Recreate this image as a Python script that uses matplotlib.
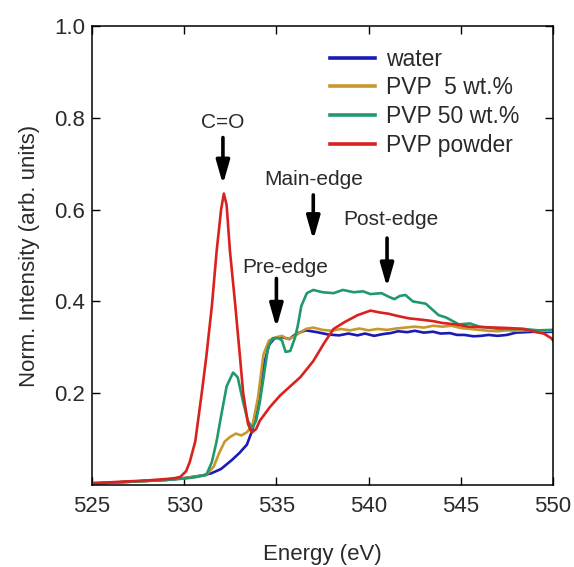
import matplotlib
matplotlib.use("Agg")
import matplotlib.pyplot as plt

plt.rcParams['font.family'] = ['Liberation Sans', 'DejaVu Sans']

# O K-edge NEXAFS spectra, normalised intensity vs photon energy
water_e = [525, 526, 527, 528, 529, 530, 530.5, 531, 531.5, 532, 532.3, 532.6, 533.0,
           533.4, 533.7, 534.0, 534.3, 534.6, 534.9, 535.3, 535.7, 536.1, 536.6, 537.2,
           537.8, 538.4, 538.9, 539.4, 539.8, 540.3, 540.8, 541.2, 541.6, 542.1, 542.5,
           543.0, 543.5, 543.9, 544.4, 544.8, 545.2, 545.7, 546.1, 546.5, 547.0, 547.5,
           548.0, 548.5, 549.0, 549.5, 550]
water_i = [0.004, 0.005, 0.007, 0.009, 0.011, 0.015, 0.018, 0.021, 0.026, 0.035, 0.045,
           0.055, 0.07, 0.088, 0.12, 0.18, 0.26, 0.305, 0.32, 0.322, 0.318, 0.33, 0.337,
           0.333, 0.328, 0.326, 0.33, 0.326, 0.33, 0.325, 0.329, 0.331, 0.335, 0.333, 0.336,
           0.332, 0.334, 0.33, 0.331, 0.327, 0.327, 0.324, 0.325, 0.327, 0.325, 0.327,
           0.332, 0.333, 0.334, 0.333, 0.334]

pvp5_e = [525, 526, 527, 528, 529, 530, 530.6, 531.2, 531.6, 531.9, 532.2, 532.5, 532.8,
          533.1, 533.4, 533.7, 534.0, 534.3, 534.6, 535.0, 535.3, 535.6, 535.9, 536.2,
          536.6, 537.0, 537.5, 538.0, 538.5, 539.0, 539.5, 540.0, 540.5, 541.0, 541.5,
          542.0, 542.5, 543.0, 543.5, 544.0, 544.5, 545.0, 545.5, 546.0, 546.5, 547.0,
          547.5, 548.0, 548.5, 549.0, 549.5, 550]
pvp5_i = [0.004, 0.005, 0.007, 0.009, 0.011, 0.015, 0.018, 0.022, 0.04, 0.07, 0.095,
          0.105, 0.112, 0.108, 0.115, 0.13, 0.19, 0.285, 0.315, 0.322, 0.325, 0.318,
          0.322, 0.33, 0.34, 0.343, 0.338, 0.336, 0.34, 0.337, 0.341, 0.337, 0.34,
          0.338, 0.341, 0.343, 0.345, 0.343, 0.347, 0.345, 0.347, 0.342, 0.34, 0.338,
          0.336, 0.335, 0.337, 0.336, 0.337, 0.336, 0.336, 0.336]

pvp50_e = [525, 526, 527, 528, 529, 530, 530.6, 531.2, 531.5, 531.76, 532.0, 532.3,
           532.65, 532.9, 533.2, 533.45, 533.7, 533.9, 534.1, 534.4, 534.55, 534.8, 535.1,
           535.3, 535.5, 535.75, 536.0, 536.15, 536.35, 536.65, 537.0, 537.5, 538.1, 538.6,
           539.2, 539.7, 540.1, 540.7, 541.1, 541.4, 541.7, 542.0, 542.4, 543.1, 543.8,
           544.2, 544.9, 545.5, 546.0, 547.1, 548.4, 549.2, 550]
pvp50_i = [0.004, 0.005, 0.007, 0.009, 0.011, 0.014, 0.017, 0.022, 0.05, 0.096, 0.15,
           0.215, 0.245, 0.235, 0.18, 0.14, 0.124, 0.14, 0.18, 0.26, 0.3, 0.32, 0.32, 0.315,
           0.29, 0.292, 0.32, 0.345, 0.39, 0.418, 0.425, 0.42, 0.418, 0.425, 0.42, 0.422,
           0.416, 0.418, 0.41, 0.405, 0.412, 0.414, 0.4, 0.395, 0.37, 0.365, 0.35, 0.352,
           0.345, 0.34, 0.34, 0.337, 0.338]

powder_e = [525, 526, 527, 528, 529, 529.5, 529.8, 530.1, 530.3, 530.6, 530.95, 531.2,
            531.5, 531.76, 532.0, 532.15, 532.3, 532.48, 532.75, 533.0, 533.2, 533.46,
            533.66, 533.9, 534.1, 534.65, 535.2, 535.75, 536.3, 537.0, 537.6, 538.1, 538.7,
            539.4, 540.1, 540.6, 541.1, 541.6, 542.2, 542.9, 543.5, 544.0, 544.7, 545.4,
            546.2, 546.9, 547.6, 548.4, 549.1, 549.5, 549.9, 550]
powder_i = [0.003, 0.006, 0.008, 0.01, 0.013, 0.015, 0.018, 0.03, 0.05, 0.095, 0.2, 0.28,
            0.39, 0.51, 0.6, 0.635, 0.61, 0.51, 0.4, 0.29, 0.2, 0.133, 0.114, 0.122, 0.14,
            0.17, 0.195, 0.215, 0.235, 0.27, 0.31, 0.34, 0.355, 0.37, 0.38, 0.376, 0.373,
            0.368, 0.363, 0.36, 0.357, 0.353, 0.35, 0.345, 0.344, 0.343, 0.342, 0.34, 0.333,
            0.33, 0.32, 0.315]

series = [
    ("water", water_e, water_i, "#1a1ab4"),
    ("PVP  5 wt.%", pvp5_e, pvp5_i, "#c9982c"),
    ("PVP 50 wt.%", pvp50_e, pvp50_i, "#21996c"),
    ("PVP powder", powder_e, powder_i, "#d9221f"),
]

# feature labels: (text, text x, text y, arrow x, arrow top, arrow tip)
features = [
    ("C=O", 532.1, 0.79, 532.1, 0.757, 0.655),
    ("Main-edge", 537.0, 0.665, 537.0, 0.632, 0.534),
    ("Post-edge", 541.2, 0.578, 541.0, 0.538, 0.431),
    ("Pre-edge", 535.5, 0.473, 535.0, 0.45, 0.343),
]

xticks = [525, 530, 535, 540, 545, 550]
yticks = [0.2, 0.4, 0.6, 0.8, 1.0]

text_color = "#2a2a2a"

fig = plt.figure(figsize=(5.74, 5.67), dpi=100)
ax = fig.add_axes([0.1603, 0.1446, 0.8031, 0.8095])

for label, e, i, c in series:
    ax.plot(e, i, color=c, lw=1.9, label=label)

for txt, tx, ty, axx, a0, a1 in features:
    ax.text(tx, ty, txt, ha="center", va="center", fontsize=15, color=text_color)
    ax.annotate("", xy=(axx, a1), xytext=(axx, a0),
                arrowprops=dict(arrowstyle="-|>,head_length=1.4,head_width=0.4",
                                lw=2.6, color="black", mutation_scale=10,
                                shrinkA=0, shrinkB=0))

ax.set_xlim(525, 550)
ax.set_ylim(0, 1.0)
ax.set_xticks(xticks)
ax.set_yticks(yticks)
ax.set_yticklabels([f"{v:.1f}" for v in yticks])
ax.tick_params(direction="in", length=6, width=1.0, top=True, right=True,
               labelsize=16, labelcolor=text_color)
ax.tick_params(axis="x", pad=8)
ax.tick_params(axis="y", pad=5)
for s in ax.spines.values():
    s.set_linewidth(1.1)

ax.set_xlabel("Energy (eV)", fontsize=16, color=text_color, labelpad=19)
ax.set_ylabel("Norm. Intensity (arb. units)", fontsize=16, color=text_color, labelpad=10)

leg = ax.legend(loc="upper left", bbox_to_anchor=(0.575, 0.916),
                bbox_transform=fig.transFigure, frameon=False, fontsize=16.5,
                handlelength=1.95, handletextpad=0.5, labelspacing=0.25,
                borderpad=0, borderaxespad=0)
for line in leg.get_lines():
    line.set_linewidth(2.6)
for t in leg.get_texts():
    t.set_color(text_color)

fig.savefig("out.png", dpi=100)
